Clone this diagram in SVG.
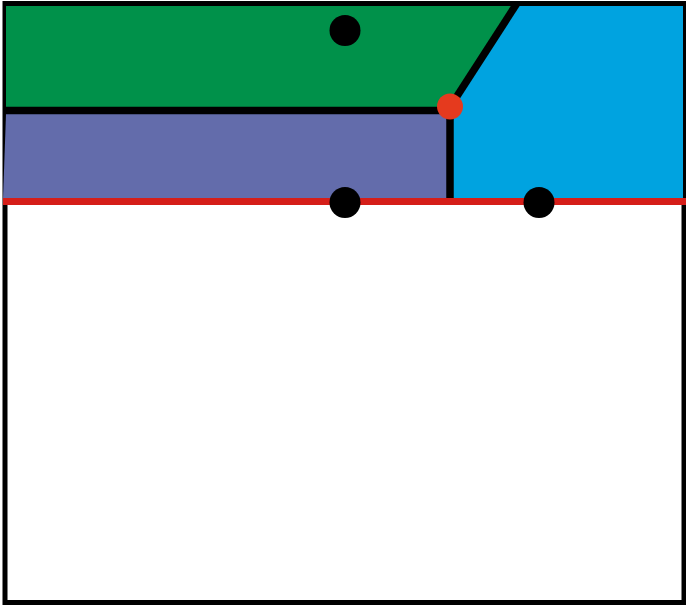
<svg xmlns="http://www.w3.org/2000/svg" width="686" height="609" viewBox="0 0 686 609">
<style>
.edge{stroke:#000;stroke-width:7.5;fill:none;stroke-linecap:butt}
.dot{fill:#000}
</style>
<rect x="0" y="0" width="686" height="609" fill="#fff"/>
<rect id="frame" x="5" y="3.5" width="679" height="599" fill="#fff" stroke="#000" stroke-width="5"/>
<g id="green"><polygon points="6,6 517,6 450,107 6,107" fill="#00914a"/></g>
<g id="blue"><polygon points="517,6 683,6 683,199 450,199 450,107" fill="#00a3e0"/></g>
<g id="purple"><polygon points="6,114 450,114 450,199 3,199" fill="#636cab"/></g>
<g id="connectors">
<line class="edge" x1="5" y1="110.5" x2="450" y2="110.5"/>
<line class="edge" x1="450" y1="107" x2="450" y2="199"/>
<line class="edge" x1="450" y1="107" x2="516.5" y2="4"/>
<line x1="3" y1="201.5" x2="686" y2="201.5" stroke="#d51e19" stroke-width="7"/>
</g>
<g id="dot1"><circle class="dot" cx="345" cy="30.5" r="15.5"/></g>
<g id="dot2"><circle class="dot" cx="345" cy="202.5" r="15.5"/></g>
<g id="dot3"><circle class="dot" cx="539" cy="202.5" r="15.5"/></g>
<g id="reddot"><circle cx="450" cy="106.5" r="13" fill="#e53a1e"/></g>
</svg>
